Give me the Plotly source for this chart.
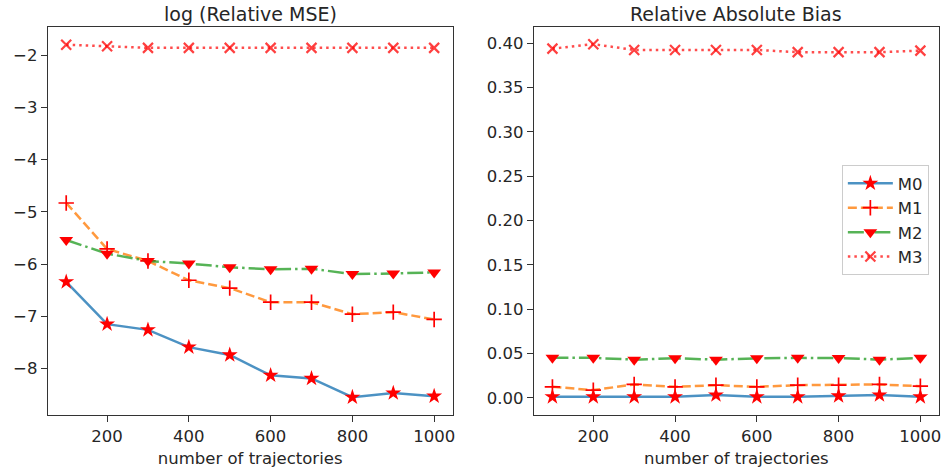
import plotly.graph_objects as go

x_vals = [100, 200, 300, 400, 500, 600, 700, 800, 900, 1000]

# log (Relative MSE)
mse_M0 = [-6.34, -7.15, -7.26, -7.59, -7.74, -8.13, -8.19, -8.55, -8.47, -8.53]
mse_M1 = [-4.83, -5.71, -5.94, -6.31, -6.46, -6.73, -6.73, -6.96, -6.92, -7.06]
mse_M2 = [-5.54, -5.80, -5.94, -5.99, -6.06, -6.10, -6.09, -6.19, -6.18, -6.16]
mse_M3 = [-1.80, -1.83, -1.86, -1.86, -1.86, -1.86, -1.86, -1.86, -1.86, -1.86]

# Relative Absolute Bias
bias_M0 = [0.001, 0.001, 0.001, 0.001, 0.003, 0.001, 0.001, 0.002, 0.003, 0.001]
bias_M1 = [0.0123, 0.0086, 0.0150, 0.0123, 0.0142, 0.0123, 0.0142, 0.0142, 0.0150, 0.0130]
bias_M2 = [0.0450, 0.0450, 0.0430, 0.0445, 0.0430, 0.0445, 0.0450, 0.0448, 0.0430, 0.0450]
bias_M3 = [0.394, 0.399, 0.3925, 0.3925, 0.3925, 0.3925, 0.390, 0.390, 0.390, 0.3917]

names = ["M0", "M1", "M2", "M3"]
x_ticks = [200, 400, 600, 800, 1000]
left_ticks = [-2, -3, -4, -5, -6, -7, -8]
left_ticktext = ["−2", "−3", "−4", "−5", "−6", "−7", "−8"]
right_ticks = [0.0, 0.05, 0.10, 0.15, 0.20, 0.25, 0.30, 0.35, 0.40]
right_ticktext = ["0.00", "0.05", "0.10", "0.15", "0.20", "0.25", "0.30", "0.35", "0.40"]

styles = [
    dict(line=dict(color="rgba(31,119,180,0.8)", width=2.5, dash="solid"),
         marker=dict(symbol="star", size=12, color="red", line=dict(width=0))),
    dict(line=dict(color="rgba(255,127,14,0.8)", width=2.5, dash="9px,4px"),
         marker=dict(symbol="cross-thin", size=11, color="red", line=dict(width=1.7, color="red"))),
    dict(line=dict(color="rgba(44,160,44,0.8)", width=2.5, dash="16px,4px,2.5px,4px"),
         marker=dict(symbol="triangle-down", size=12, color="red", line=dict(width=0))),
    dict(line=dict(color="rgba(255,0,0,0.7)", width=2.5, dash="2.5px,4px"),
         marker=dict(symbol="x-thin", size=10, color="rgba(255,0,0,0.7)", line=dict(width=2.2, color="rgba(255,0,0,0.75)"))),
]

fig = go.Figure()
left_series = [mse_M0, mse_M1, mse_M2, mse_M3]
right_series = [bias_M0, bias_M1, bias_M2, bias_M3]
for i in range(4):
    fig.add_trace(go.Scatter(x=x_vals, y=left_series[i], mode="lines+markers", name=names[i],
                             showlegend=False, xaxis="x", yaxis="y", **styles[i]))
for i in range(4):
    fig.add_trace(go.Scatter(x=x_vals, y=right_series[i], mode="lines+markers", name=names[i],
                             showlegend=True, xaxis="x2", yaxis="y2", **styles[i]))

font = dict(family="DejaVu Sans", size=16.5, color="#262626")
axis_common = dict(showline=True, mirror=True, linecolor="#333333", linewidth=1.2,
                   ticks="outside", ticklen=6, tickcolor="#333333", tickwidth=1.2, showgrid=False,
                   zeroline=False, tickfont=font, ticklabeloverflow="allow")

ydom = [0.1263, 0.9432]
title_font = dict(family="DejaVu Sans", size=19, color="#262626")
fig.update_layout(
    width=946, height=475,
    margin=dict(l=0, r=0, t=0, b=0),
    paper_bgcolor="white", plot_bgcolor="white",
    font=font,
    xaxis=dict(domain=[0.0507, 0.4799], range=[55, 1045], tickvals=x_ticks, anchor="y",
               title=dict(text="number of trajectories", font=font, standoff=7), **axis_common),
    yaxis=dict(domain=ydom, range=[-8.89, -1.46], tickvals=left_ticks, ticktext=left_ticktext,
               anchor="x", **axis_common),
    xaxis2=dict(domain=[0.5663, 0.9955], range=[55, 1045], tickvals=x_ticks, anchor="y2",
                title=dict(text="number of trajectories", font=font, standoff=7), **axis_common),
    yaxis2=dict(domain=ydom, range=[-0.0195, 0.4184], tickvals=right_ticks, ticktext=right_ticktext,
                anchor="x2", **axis_common),
    legend=dict(x=0.985, y=0.6526, xanchor="right", yanchor="top",
                bgcolor="rgba(255,255,255,0.8)", bordercolor="#cccccc", borderwidth=1,
                font=font, tracegroupgap=0, itemwidth=45),
    annotations=[
        dict(text="log (Relative MSE)", x=(0.0507 + 0.4799) / 2, y=0.9432, xref="paper", yref="paper",
             xanchor="center", yanchor="bottom", yshift=0, showarrow=False, font=title_font),
        dict(text="Relative Absolute Bias", x=(0.5663 + 0.9955) / 2, y=0.9432, xref="paper", yref="paper",
             xanchor="center", yanchor="bottom", yshift=0, showarrow=False, font=title_font),
    ],
)

fig.write_html("out.html", config={"displayModeBar": False},
               post_script="document.body.style.margin='0';document.body.style.overflow='hidden';")
